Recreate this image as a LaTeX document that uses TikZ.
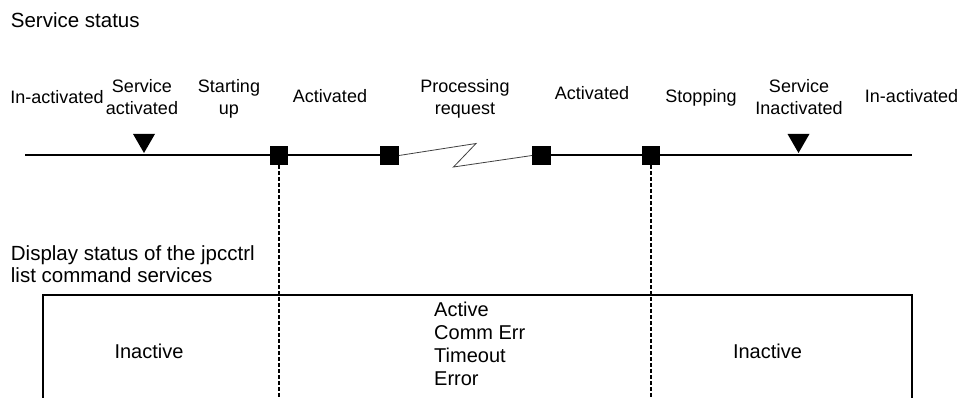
\documentclass[tikz,border=0pt]{standalone}
\usepackage{fontspec}
\setmainfont{Liberation Sans}
\usetikzlibrary{shapes.geometric}

\tikzset{
  lbl/.style={inner sep=0pt, font=\fontsize{18}{22}\selectfont, align=center},
  head/.style={inner sep=0pt, font=\fontsize{20.5}{22}\selectfont, align=left},
  boxtxt/.style={inner sep=0pt, font=\fontsize{20}{23}\selectfont, align=left},
  mainline/.style={line width=2pt, black},
  zig/.style={line width=0.8pt, black!75},
  marker/.style={fill=black, inner sep=0pt, minimum size=18.5pt},
  tri/.style={regular polygon, regular polygon sides=3, shape border rotate=180,
              fill=black, inner sep=0pt, minimum size=25.4pt},
  dashline/.style={line width=1.4pt, dash pattern=on 4pt off 2pt},
  frame/.style={line width=2pt}
}

\begin{document}
\begin{tikzpicture}[x=1pt, y=-1pt]
  \useasboundingbox (0,0) rectangle (961,398);

  % heading
  \node[head, anchor=base west] (hdr) at (10.7,28) {Service status};

  % timeline
  \coordinate (lstart) at (25,155.5);
  \coordinate (lend) at (912,155.5);
  \node[marker] (s1) at (279,155.5) {};
  \node[marker] (s2) at (389.5,155.5) {};
  \node[marker] (s3) at (541.5,155.5) {};
  \node[marker] (s4) at (651,155.5) {};
  \draw[mainline] (lstart) -- (s2.center);
  \draw[mainline] (s3.center) -- (lend);
  \node[marker] at (s1) {};
  \node[marker] at (s2) {};
  \node[marker] at (s3) {};
  \node[marker] at (s4) {};

  % break in the timeline
  \coordinate (z1) at (476,143.5);
  \coordinate (z2) at (453.5,167);
  \draw[zig] (s2.east) -- (z1) -- (z2) -- (s3.west);

  % service start / stop markers
  \node[tri] (t1) at (144,140.3) {};
  \node[tri] (t2) at (798.5,140.3) {};

  % phase labels
  \node[lbl, anchor=base] (p1) at (57,104) {In-activated};
  \node[lbl, anchor=north] (p2) at (142,78.9) {Service\\activated};
  \node[lbl, anchor=north] (p3) at (229,78.9) {Starting\\up};
  \node[lbl, anchor=base] (p4) at (330,103) {Activated};
  \node[lbl, anchor=north] (p5) at (465,78.9) {Processing\\request};
  \node[lbl, anchor=base] (p6) at (592,100) {Activated};
  \node[lbl, anchor=base] (p7) at (701,103) {Stopping};
  \node[lbl, anchor=north] (p8) at (799,78.9) {Service\\Inactivated};
  \node[lbl, anchor=base] (p9) at (911.5,103) {In-activated};

  % command display section
  \node[head, anchor=north west] (cmd) at (10.7,245.2)
    {Display status of the jpcctrl\\list command services};

  \coordinate (bl) at (43,400);
  \coordinate (tl) at (43,295);
  \coordinate (tr) at (912,295);
  \coordinate (br) at (912,400);
  \draw[frame] (bl) -- (tl) -- (tr) -- (br);

  \coordinate (d1) at (279,400);
  \coordinate (d2) at (651,400);
  \draw[dashline] (s1.south) -- (d1);
  \draw[dashline] (s4.south) -- (d2);

  \node[boxtxt, anchor=base] (in1) at (149,358) {Inactive};
  \node[boxtxt, anchor=north west] (act) at (434,301.7)
    {Active\\Comm Err\\Timeout\\Error};
  \node[boxtxt, anchor=base] (in2) at (767.5,358) {Inactive};
\end{tikzpicture}
\end{document}
